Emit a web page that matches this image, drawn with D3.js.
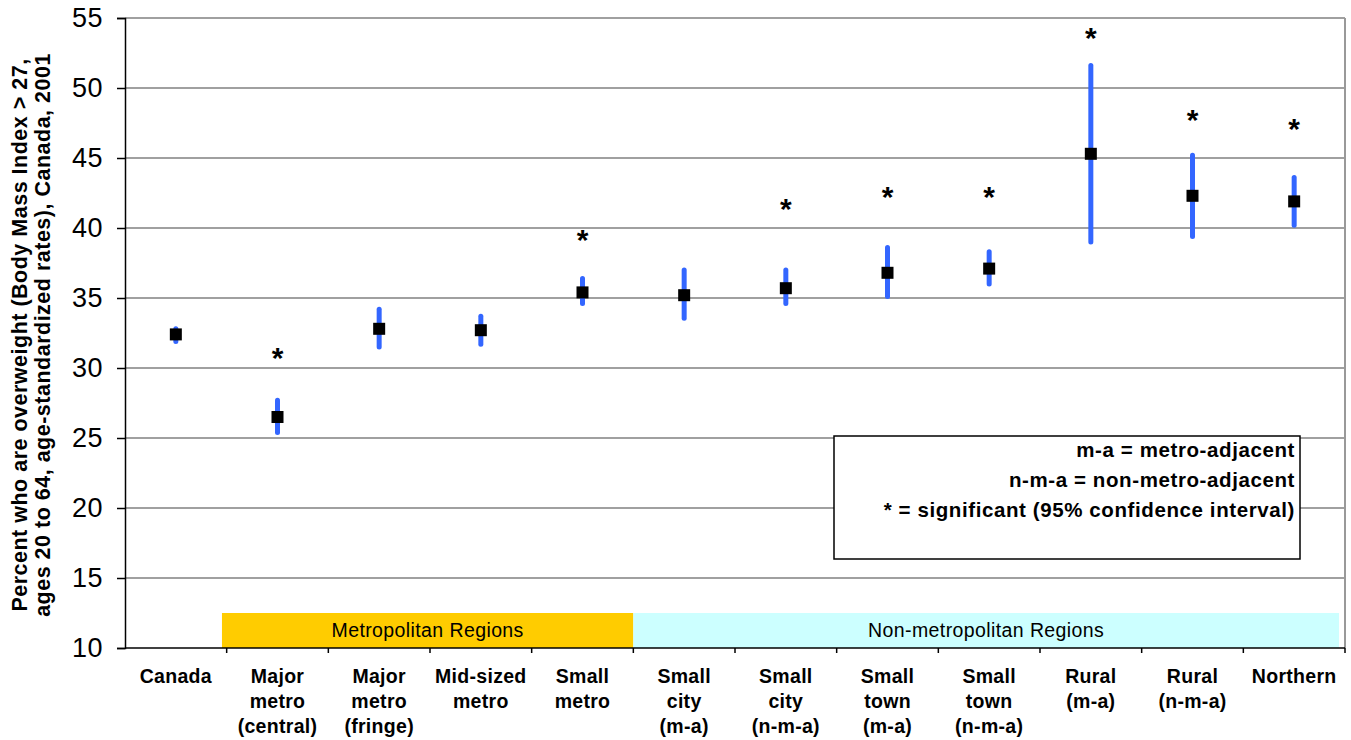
<!DOCTYPE html>
<html>
<head>
<meta charset="utf-8">
<script src="https://cdn.jsdelivr.net/npm/d3@7"></script>
<style>
  html, body { margin: 0; padding: 0; background: #fff; }
  svg { display: block; font-family: Arial, "Liberation Sans", sans-serif; }
</style>
</head>
<body>
<svg id="chart" width="1351" height="740"></svg>
<script>
// ---- data ----
const categories = ["Canada", "Major metro (central)", "Major metro (fringe)", "Mid-sized metro", "Small metro",
  "Small city (m-a)", "Small city (n-m-a)", "Small town (m-a)", "Small town (n-m-a)", "Rural (m-a)", "Rural (n-m-a)", "Northern"];
const categoryLabelLines = [["Canada"], ["Major", "metro", "(central)"], ["Major", "metro", "(fringe)"], ["Mid-sized", "metro"],
  ["Small", "metro"], ["Small", "city", "(m-a)"], ["Small", "city", "(n-m-a)"], ["Small", "town", "(m-a)"], ["Small", "town", "(n-m-a)"],
  ["Rural", "(m-a)"], ["Rural", "(n-m-a)"], ["Northern"]];
const rates = [32.4, 26.5, 32.8, 32.7, 35.4, 35.2, 35.7, 36.8, 37.1, 45.3, 42.3, 41.9];
const lowerCI = [31.9, 25.4, 31.5, 31.7, 34.6, 33.55, 34.6, 35.1, 36.0, 39.0, 39.4, 40.2];
const upperCI = [32.8, 27.7, 34.2, 33.7, 36.4, 37.0, 37.0, 38.6, 38.3, 51.6, 45.2, 43.6];
const significant = [false, true, false, false, true, false, true, true, true, true, true, true];
const starLevel = [null, 31.0, null, null, 39.4, null, 41.6, 42.5, 42.5, 53.8, 48.0, 47.3];
const yTicks = [10, 15, 20, 25, 30, 35, 40, 45, 50, 55];
const regionGroups = ["Metropolitan Regions", "Non-metropolitan Regions"];
const regionFirst = ["Major metro (central)", "Small city (m-a)"];
const regionLast = ["Small metro", "Northern"];
const regionTop = 12.5;
const legendLines = ["m-a = metro-adjacent", "n-m-a = non-metro-adjacent", "* = significant (95% confidence interval)"];
const yTitleLines = ["Percent who are overweight (Body Mass Index > 27,", "ages 20 to 64, age-standardized rates), Canada, 2001"];

// ---- layout ----
const svg = d3.select("#chart");
const mLeft = 125, mRight = 1345, mTop = 18, mBottom = 648;
const x = d3.scaleBand().domain(categories).range([mLeft, mRight]).padding(0);
const y = d3.scaleLinear().domain([10, 55]).range([mBottom, mTop]);

// region bands
const regionColors = ["#FFCC00", "#CCFFFF"];
const regionOffsets = [[-4.7, 0], [0, -6]];
regionGroups.forEach((g, i) => {
  const x0 = x(regionFirst[i]) + regionOffsets[i][0];
  const x1 = x(regionLast[i]) + x.bandwidth() + regionOffsets[i][1];
  svg.append("rect").attr("x", x0).attr("y", y(regionTop)).attr("width", x1 - x0)
    .attr("height", y(10) - y(regionTop)).attr("fill", regionColors[i]);
  svg.append("text").attr("x", (x0 + x1) / 2).attr("y", y(10) - 11)
    .attr("text-anchor", "middle").attr("font-size", 19.5).style("letter-spacing", "0.4px")
    .attr("fill", "#000").text(g);
});

// gridlines
svg.append("g").selectAll("line").data(yTicks.filter(t => t > 10)).join("line")
  .attr("x1", mLeft).attr("x2", mRight).attr("y1", d => y(d)).attr("y2", d => y(d))
  .attr("stroke", "#808080").attr("stroke-width", 1.5);
// right border
svg.append("line").attr("x1", mRight).attr("x2", mRight).attr("y1", mTop).attr("y2", mBottom)
  .attr("stroke", "#999").attr("stroke-width", 2);

// y axis
const yAxis = svg.append("g").attr("transform", `translate(${mLeft},0)`)
  .call(d3.axisLeft(y).tickValues(yTicks).tickSize(8).tickPadding(14).tickFormat(d3.format("d")));
yAxis.select(".domain").attr("stroke", "#000").attr("stroke-width", 1.5);
yAxis.selectAll(".tick line").attr("stroke", "#000").attr("stroke-width", 1.5);
yAxis.selectAll(".tick text").attr("font-size", 27).attr("font-family", "Arial, 'Liberation Sans', sans-serif")
  .style("letter-spacing", "0.5px").attr("fill", "#000");

// x axis
const xAxisG = svg.append("g");
xAxisG.append("line").attr("x1", mLeft).attr("x2", mRight).attr("y1", mBottom).attr("y2", mBottom)
  .attr("stroke", "#000").attr("stroke-width", 1.5);
xAxisG.selectAll("line.tk").data(categories.slice(1).concat(["__end"])).join("line").attr("class", "tk")
  .attr("x1", d => d === "__end" ? mRight : x(d)).attr("x2", d => d === "__end" ? mRight : x(d))
  .attr("y1", mBottom).attr("y2", mBottom + 5).attr("stroke", "#000").attr("stroke-width", 1.5);
categories.forEach((c, i) => {
  const t = xAxisG.append("text").attr("text-anchor", "middle").attr("font-size", 19.5)
    .attr("font-weight", "bold").style("letter-spacing", "0.3px").attr("fill", "#000");
  categoryLabelLines[i].forEach((ln, j) => {
    t.append("tspan").attr("x", x(c) + x.bandwidth() / 2).attr("y", 683 + j * 25).text(ln);
  });
});

// error bars
svg.append("g").selectAll("line").data(categories).join("line")
  .attr("x1", d => x(d) + x.bandwidth() / 2).attr("x2", d => x(d) + x.bandwidth() / 2)
  .attr("y1", (d, i) => y(upperCI[i])).attr("y2", (d, i) => y(lowerCI[i]))
  .attr("stroke", "#3366FF").attr("stroke-width", 5).attr("stroke-linecap", "round");

// markers
svg.append("g").selectAll("rect").data(categories).join("rect")
  .attr("x", d => x(d) + x.bandwidth() / 2 - 6).attr("y", (d, i) => y(rates[i]) - 6)
  .attr("width", 12).attr("height", 12).attr("fill", "#000");

// significance stars
svg.append("g").selectAll("text").data(categories.filter((d, i) => significant[i])).join("text")
  .attr("x", d => x(d) + x.bandwidth() / 2)
  .attr("y", d => y(starLevel[categories.indexOf(d)]) + 13.5)
  .attr("text-anchor", "middle").attr("font-size", 30).attr("font-weight", "bold").attr("fill", "#000").text("*");

// legend box
svg.append("rect").attr("x", 834).attr("y", 436).attr("width", 466).attr("height", 123)
  .attr("fill", "#fff").attr("stroke", "#000").attr("stroke-width", 1.5);
svg.append("g").selectAll("text").data(legendLines).join("text")
  .attr("x", 1295).attr("y", (d, i) => 457 + i * 30).attr("text-anchor", "end")
  .attr("font-size", 20.5).attr("font-weight", "bold").style("letter-spacing", "0.6px").attr("fill", "#000")
  .text(d => d);

// y title
const yt = svg.append("text").attr("transform", "translate(0,335) rotate(-90)")
  .attr("text-anchor", "middle").attr("font-size", 21.5).attr("font-weight", "bold")
  .style("letter-spacing", "0.5px").attr("fill", "#000");
yTitleLines.forEach((ln, j) => {
  yt.append("tspan").attr("x", 0).attr("y", 27 + j * 23).text(ln);
});
</script>
</body>
</html>
